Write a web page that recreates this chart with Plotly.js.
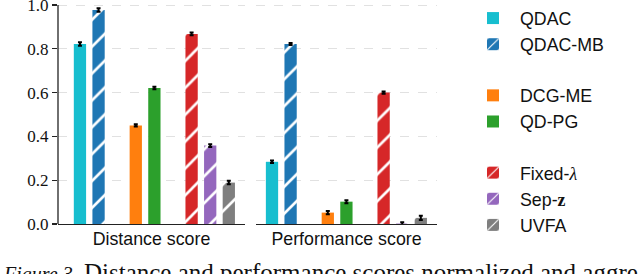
<!DOCTYPE html>
<html>
<head>
<meta charset="utf-8">
<script src="https://cdn.plot.ly/plotly-3.0.1.min.js"></script>
<style>html,body{margin:0;padding:0;background:#fff;overflow:hidden}#chart{width:638px;height:274px}</style>
</head>
<body>
<div id="chart"></div>
<script>
const methods = ['QDAC', 'QDAC-MB', 'DCG-ME', 'QD-PG',
  "Fixed-<span style=\"font-family:'Liberation Serif'\"><i>λ</i></span>",
  "Sep-<span style=\"font-family:'Liberation Serif'\"><b>z</b></span>",
  'UVFA'];
const slots = [0, 1, 3, 4, 6, 7, 8];
const distance = [0.822, 0.977, 0.450, 0.621, 0.868, 0.358, 0.189];
const distanceErr = [0.008, 0.008, 0.005, 0.006, 0.006, 0.006, 0.008];
const performance = [0.284, 0.822, 0.052, 0.102, 0.600, 0.002, 0.028];
const performanceErr = [0.006, 0.005, 0.007, 0.007, 0.005, 0.006, 0.010];
const yTicks = [0, 0.2, 0.4, 0.6, 0.8, 1.0];
const yTickText = ['0.0', '0.2', '0.4', '0.6', '0.8', '1.0'];
const panelTitles = ['Distance score', 'Performance score'];

const colors = ['#17becf', '#1f77b4', '#ff7f0e', '#2ca02c', '#d62728', '#9467bd', '#7f7f7f'];
const hatched = [false, true, false, false, true, true, true];
const groups = ['g1', 'g1', 'g2', 'g2', 'g3', 'g3', 'g3'];

const sans = "'Liberation Sans', Arial, sans-serif";
const serif = "'Liberation Serif', 'Times New Roman', serif";

const traces = [];
const panels = [
  {vals: distance, errs: distanceErr, xa: 'x', ya: 'y'},
  {vals: performance, errs: performanceErr, xa: 'x2', ya: 'y2'}
];
panels.forEach((p, pi) => {
  methods.forEach((m, i) => {
    const marker = {color: colors[i], line: {width: 0}};
    if (hatched[i]) {
      marker.pattern = {shape: '/', fgcolor: '#ffffff', bgcolor: colors[i], size: 19, solidity: 0.14, fillmode: 'replace'};
    }
    traces.push({
      type: 'bar',
      name: m,
      x: [slots[i]],
      y: [p.vals[i]],
      width: 0.66,
      xaxis: p.xa,
      yaxis: p.ya,
      marker: marker,
      error_y: {type: 'data', array: [p.errs[i]], visible: true, color: '#000', thickness: 2, width: 2},
      legendgroup: groups[i],
      showlegend: pi === 0,
      hoverinfo: 'skip'
    });
  });
});

const W = 638, H = 274;
const y0px = 224, y1px = 5;             // pixel rows of 0.0 and 1.0
const pxPerUnit = y0px - y1px;
const yTop = 1 + y1px / pxPerUnit;      // range top reaching the page top
const yDomain = [(H - y0px) / H, 1];
const gridStyle = {showgrid: true, gridcolor: '#d9d9d9', griddash: 'dash', gridwidth: 0.8};

const layout = {
  width: W, height: H,
  margin: {l: 0, r: 0, t: 0, b: 0},
  paper_bgcolor: '#fff', plot_bgcolor: 'rgba(0,0,0,0)',
  barmode: 'overlay',
  showlegend: true,
  font: {family: sans, color: '#111'},
  xaxis: {
    domain: [58 / W, 245 / W], range: [-1.18, 8.87], anchor: 'y',
    showticklabels: false, ticks: '', showgrid: false, zeroline: false,
    showline: true, linecolor: '#222', linewidth: 1.3,
    title: {text: panelTitles[0], font: {family: sans, size: 17.8, color: '#111'}, standoff: 8}
  },
  xaxis2: {
    domain: [256 / W, 437 / W], range: [-0.86, 8.87], anchor: 'y2',
    showticklabels: false, ticks: '', showgrid: false, zeroline: false,
    showline: true, linecolor: '#222', linewidth: 1.3,
    title: {text: panelTitles[1], font: {family: sans, size: 17.8, color: '#111'}, standoff: 8}
  },
  yaxis: Object.assign({
    domain: yDomain, range: [0, yTop], anchor: 'x',
    tickvals: yTicks, ticktext: yTickText, ticklabeloverflow: 'allow',
    ticks: 'outside', ticklen: 5, tickwidth: 1.2, tickcolor: '#222',
    tickfont: {family: serif, size: 17, color: '#111'},
    showline: false, zeroline: false
  }, gridStyle),
  yaxis2: Object.assign({
    domain: yDomain, range: [0, yTop], anchor: 'x2', matches: 'y',
    tickvals: yTicks, showticklabels: false, ticks: '',
    showline: false, zeroline: false
  }, gridStyle),
  shapes: [{
    type: 'line', xref: 'paper', yref: 'y', x0: 58 / W, x1: 58 / W, y0: 0, y1: 1.0,
    line: {color: '#222', width: 1.3}
  }],
  legend: {
    x: 466 / W, xanchor: 'left', y: 1.0, yanchor: 'top',
    traceorder: 'grouped', tracegroupgap: 25,
    font: {family: sans, size: 17.8, color: '#111'},
    bgcolor: 'rgba(0,0,0,0)', itemwidth: 44
  },
  annotations: [{
    xref: 'paper', yref: 'paper', x: 1 / W, y: (H - 257) / H,
    xanchor: 'left', yanchor: 'top', showarrow: false, align: 'left',
    text: '<span style="font-size:20px"><i>Figure 3.</i></span> Distance and performance scores normalized and aggregated across all tasks.',
    font: {family: serif, size: 25, color: '#111'}
  }]
};

Plotly.newPlot('chart', traces, layout, {displayModeBar: false, staticPlot: true});
</script>
</body>
</html>
